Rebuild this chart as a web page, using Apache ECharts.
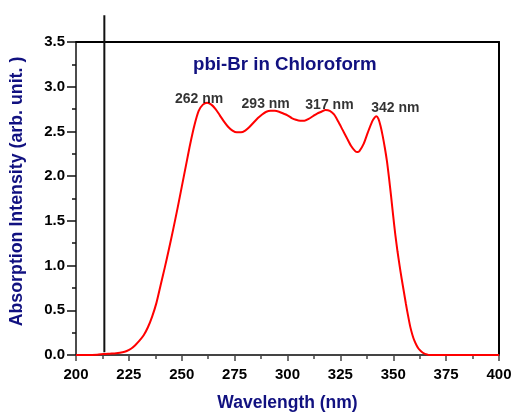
<!DOCTYPE html>
<html>
<head>
<meta charset="utf-8">
<script src="https://cdn.jsdelivr.net/npm/echarts@6/dist/echarts.min.js"></script>
<style>html,body{margin:0;padding:0;background:#fff}#c{width:514px;height:414px}</style>
</head>
<body>
<div id="c"></div>
<script>
// Data
const wavelengths = [200, 205, 210, 213, 216, 219, 222, 224, 226, 228, 230, 232, 234, 236, 238, 240, 242, 244, 246, 248, 250, 252, 254, 256, 258, 260, 262, 264, 266, 268, 270, 272, 274, 276, 278, 280, 282, 284, 286, 288, 290, 292, 294, 296, 298, 300, 302, 304, 306, 308, 310, 312, 314, 316, 318, 320, 322, 324, 326, 328, 330, 332, 333, 334, 336, 338, 340, 341, 342, 343, 344, 345, 346, 347, 348, 349, 350, 351, 352, 353, 354, 355, 356, 357, 358, 359, 360, 361, 362, 363, 364, 365, 366, 367, 370, 380, 390, 400];
const absorbance = [0, 0, 0.003, 0.01, 0.015, 0.02, 0.03, 0.045, 0.07, 0.11, 0.16, 0.22, 0.31, 0.43, 0.58, 0.78, 0.98, 1.19, 1.41, 1.64, 1.88, 2.12, 2.36, 2.57, 2.73, 2.80, 2.82, 2.80, 2.75, 2.68, 2.61, 2.55, 2.51, 2.49, 2.49, 2.51, 2.55, 2.60, 2.65, 2.69, 2.72, 2.73, 2.73, 2.72, 2.70, 2.68, 2.65, 2.63, 2.62, 2.62, 2.64, 2.67, 2.70, 2.72, 2.74, 2.73, 2.69, 2.61, 2.52, 2.43, 2.34, 2.28, 2.27, 2.28, 2.36, 2.49, 2.61, 2.65, 2.67, 2.64, 2.56, 2.45, 2.32, 2.17, 1.98, 1.77, 1.55, 1.34, 1.16, 1.00, 0.85, 0.71, 0.57, 0.44, 0.32, 0.23, 0.16, 0.11, 0.07, 0.045, 0.025, 0.012, 0.005, 0, 0, 0, 0, 0];
const peakWavelengths = [262, 293, 317, 342];
const peakValues = [2.82, 2.73, 2.74, 2.67];
const peakLabels = ['262 nm', '293 nm', '317 nm', '342 nm'];
const markerWavelength = 213.4;
const markerRange = [0.03, 3.8];
const xTicks = {min: 200, max: 400, interval: 25};
const yTicks = {min: 0, max: 3.5, interval: 0.5};

const labelOffsets = [[-8, 3], [-7, 0], [6, 2], [19, -1]];

const chart = echarts.init(document.getElementById('c'), null, {renderer: 'canvas'});
const navy = '#111180';
const font = '"Liberation Sans", Arial, sans-serif';

chart.setOption({
  animation: false,
  backgroundColor: '#fff',
  title: {
    text: 'pbi-Br in Chloroform',
    left: 188, top: 50,
    textStyle: {color: navy, fontSize: 18.7, fontWeight: 'bold', fontFamily: font}
  },
  grid: {left: 76, right: 15, top: 42, bottom: 59, containLabel: false, outerBoundsMode: 'none'},
  xAxis: [{
    type: 'value', min: xTicks.min, max: xTicks.max, interval: xTicks.interval,
    name: 'Wavelength (nm)', nameLocation: 'middle', nameGap: 39,
    nameTextStyle: {color: navy, fontSize: 17.5, fontWeight: 'bold', fontFamily: font},
    axisLine: {show: true, onZero: false, lineStyle: {color: '#444', width: 2}},
    axisTick: {show: true, length: 6, lineStyle: {color: '#444', width: 1.5}},
    minorTick: {show: true, splitNumber: 2, length: 4, lineStyle: {color: '#444', width: 1.5}},
    axisLabel: {color: '#000', fontSize: 15, fontWeight: 'bold', fontFamily: font, margin: 12},
    splitLine: {show: false}
  }, {
    type: 'value', position: 'top', min: xTicks.min, max: xTicks.max,
    axisLine: {show: true, onZero: false, lineStyle: {color: '#000', width: 2}},
    axisTick: {show: false}, axisLabel: {show: false}, splitLine: {show: false}
  }],
  yAxis: [{
    type: 'value', min: yTicks.min, max: yTicks.max, interval: yTicks.interval,
    name: 'Absorption Intensity (arb. unit. )', nameLocation: 'middle', nameGap: 50,
    nameTextStyle: {color: navy, fontSize: 17.8, fontWeight: 'bold', fontFamily: font, padding: [0, 0, 0, 14]},
    axisLine: {show: true, onZero: false, lineStyle: {color: '#111', width: 1.5}},
    axisTick: {show: true, length: 9, lineStyle: {color: '#111', width: 1.5}},
    minorTick: {show: true, splitNumber: 2, length: 4, lineStyle: {color: '#111', width: 1.5}},
    axisLabel: {color: '#000', fontSize: 15, fontWeight: 'bold', fontFamily: font, margin: 11,
      formatter: v => v.toFixed(1)},
    splitLine: {show: false}
  }, {
    type: 'value', position: 'right', min: yTicks.min, max: yTicks.max,
    axisLine: {show: true, onZero: false, lineStyle: {color: '#000', width: 2}},
    axisTick: {show: false}, axisLabel: {show: false}, splitLine: {show: false}
  }],
  series: [{
    type: 'line',
    data: wavelengths.map((w, i) => [w, absorbance[i]]),
    showSymbol: false, symbol: 'none', smooth: 0.25,
    lineStyle: {color: '#ff0000', width: 2},
    z: 3
  }, {
    type: 'line',
    data: markerRange.map(v => [markerWavelength, v]),
    symbol: 'none', clip: false,
    lineStyle: {color: '#111', width: 2},
    z: 2
  }, {
    type: 'scatter',
    symbolSize: 0,
    data: peakWavelengths.map((w, i) => ({
      value: [w, peakValues[i]],
      label: {offset: labelOffsets[i]}
    })),
    label: {
      show: true, position: 'top', distance: 0,
      formatter: p => peakLabels[p.dataIndex],
      color: '#000', fontSize: 14, fontWeight: 'bold', fontFamily: font
    },
    z: 4
  }]
});
</script>
</body>
</html>
